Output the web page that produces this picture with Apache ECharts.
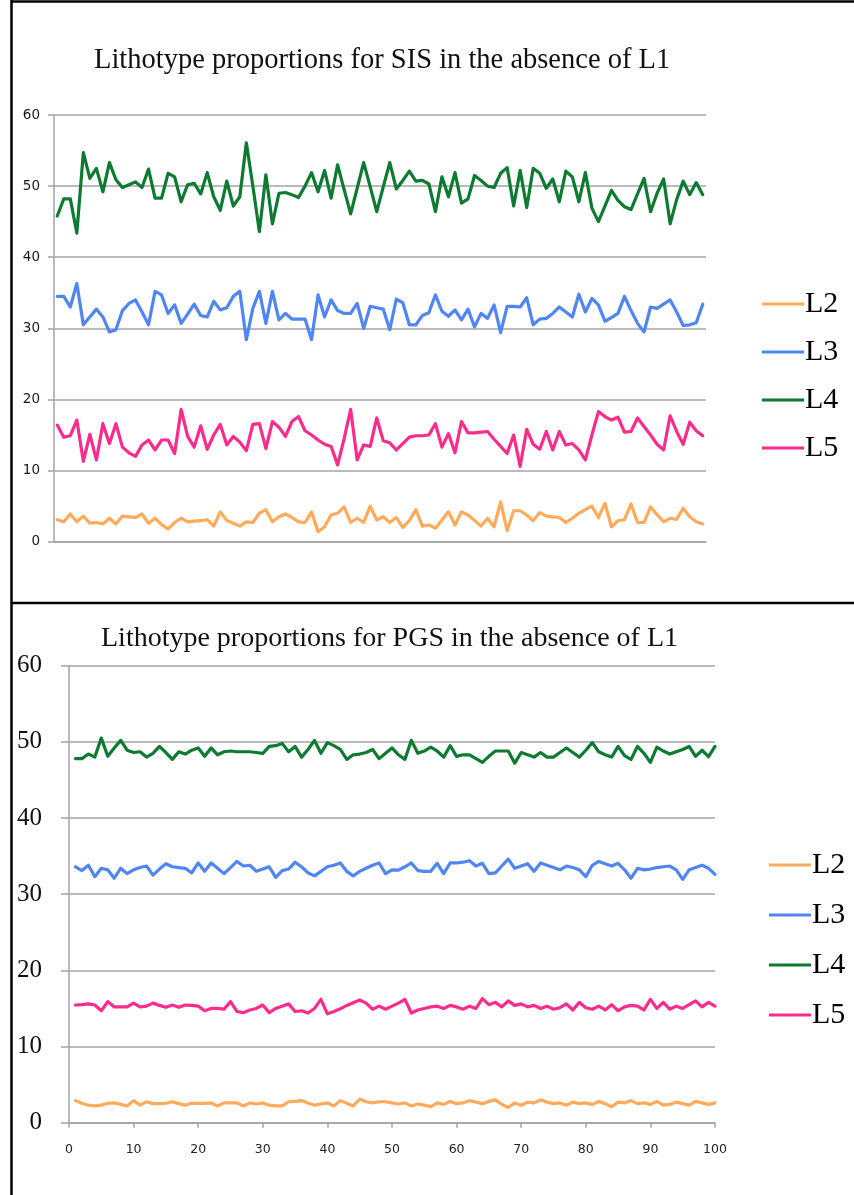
<!DOCTYPE html>
<html>
<head>
<meta charset="utf-8">
<title>Lithotype proportions in the absence of L1</title>
<script src="https://cdn.jsdelivr.net/npm/echarts@6/dist/echarts.min.js"></script>
<style>
  html, body { margin: 0; padding: 0; background: #fff; }
  #chart { width: 854px; height: 1195px; }
</style>
</head>
<body>
<div id="chart"></div>
<script>
// Simulation runs 1..100
const runs = Array.from({ length: 100 }, (_, i) => i + 1);
const seriesNames = ['L2', 'L3', 'L4', 'L5'];
const yTicks = [0, 10, 20, 30, 40, 50, 60];
const xTicks = [0, 10, 20, 30, 40, 50, 60, 70, 80, 90, 100];

// SIS proportions (%)
const sisL2 = [3.1,2.8,3.9,2.8,3.6,2.6,2.7,2.5,3.3,2.5, 3.6,3.5,3.4,3.9,2.6,3.3,2.4,1.8,2.7,3.3,
  2.8,2.9,2.95,3.1,2.2,4.2,3.0,2.6,2.2,2.8, 2.7,4.0,4.5,2.8,3.5,3.9,3.4,2.8,2.7,4.2,
  1.4,2.1,3.75,4.0,4.9,2.7,3.3,2.7,5.0,3.05, 3.5,2.7,3.4,2.0,2.95,4.5,2.2,2.35,1.9,3.05,
  4.2,2.35,4.2,3.75,3.0,2.2,3.3,2.1,5.6,1.55, 4.35,4.35,3.75,2.95,4.1,3.6,3.5,3.4,2.7,3.3,
  4.0,4.5,5.0,3.4,5.4,2.1,2.95,3.1,5.3,2.7, 2.7,4.9,3.8,2.8,3.3,3.15,4.7,3.5,2.8,2.5];
const sisL3 = [34.5,34.5,33.0,36.3,30.5,31.6,32.7,31.6,29.5,29.8, 32.5,33.5,34.0,32.3,30.5,35.2,34.7,32.1,33.3,30.7,
  32.0,33.4,31.8,31.6,33.8,32.6,32.9,34.5,35.2,28.4, 32.8,35.2,30.7,35.2,31.2,32.1,31.3,31.3,31.3,28.4,
  34.7,31.6,34.0,32.5,32.1,32.1,33.5,30.0,33.1,32.9, 32.7,29.8,34.1,33.6,30.5,30.5,31.8,32.2,34.7,32.4,
  31.7,32.6,31.2,32.7,30.2,32.1,31.4,33.3,29.4,33.1, 33.1,33.0,34.3,30.5,31.3,31.4,32.1,33.0,32.3,31.6,
  34.8,32.3,34.2,33.3,31.0,31.5,32.1,34.5,32.5,30.7, 29.5,33.0,32.8,33.4,34.0,32.3,30.4,30.5,30.8,33.4];
const sisL4 = [45.8,48.2,48.2,43.4,54.7,51.1,52.5,49.2,53.3,50.9, 49.8,50.2,50.6,49.8,52.4,48.3,48.3,51.8,51.3,47.8,
  50.2,50.4,48.9,51.9,48.5,46.6,50.7,47.2,48.5,56.1, 50.0,43.6,51.6,44.7,49.0,49.1,48.8,48.4,50.0,51.9,
  49.2,52.2,48.3,53.0,49.5,46.1,49.7,53.3,49.9,46.4, 49.9,53.3,49.6,50.8,52.1,50.7,50.8,50.3,46.4,51.3,
  48.5,51.9,47.6,48.2,51.5,50.8,50.0,49.8,51.8,52.6, 47.2,52.2,47.0,52.5,51.8,49.7,51.0,47.8,52.1,51.3,
  47.8,51.9,46.9,45.0,47.2,49.4,48.0,47.1,46.7,48.9, 51.1,46.4,49.0,51.0,44.7,48.1,50.7,48.8,50.5,48.8];
const sisL5 = [16.4,14.7,14.9,17.1,11.3,15.1,11.5,16.6,13.8,16.6, 13.3,12.5,12.0,13.6,14.3,12.9,14.3,14.3,12.4,18.6,
  14.8,13.3,16.3,13.0,15.0,16.5,13.6,14.8,14.0,12.8, 16.5,16.6,13.1,16.9,16.1,14.8,16.9,17.6,15.6,15.0,
  14.3,13.7,13.4,10.8,14.5,18.6,11.5,13.6,13.4,17.4, 14.2,13.9,12.9,13.8,14.7,14.9,14.9,15.0,16.6,13.3,
  15.2,12.5,16.9,15.3,15.3,15.4,15.5,14.4,13.4,12.4, 15.0,10.6,15.8,13.7,13.0,15.5,12.9,15.5,13.6,13.8,
  12.9,11.5,15.0,18.3,17.6,17.1,17.5,15.4,15.5,17.4, 16.2,15.0,13.7,12.9,17.7,15.5,13.7,16.8,15.6,14.9];

// PGS proportions (%)
const pgsL2 = [2.9,2.55,2.3,2.2,2.3,2.55,2.6,2.4,2.2,2.9, 2.3,2.75,2.5,2.5,2.55,2.75,2.5,2.3,2.55,2.55,
  2.55,2.6,2.2,2.6,2.6,2.6,2.2,2.6,2.45,2.6, 2.3,2.2,2.2,2.75,2.8,2.9,2.6,2.3,2.45,2.6,
  2.2,2.9,2.55,2.2,3.1,2.75,2.6,2.75,2.75,2.6, 2.45,2.6,2.2,2.45,2.3,2.1,2.6,2.4,2.8,2.5,
  2.6,2.9,2.7,2.5,2.8,3.0,2.4,2.0,2.6,2.3, 2.7,2.6,3.0,2.7,2.5,2.6,2.3,2.7,2.5,2.6,
  2.4,2.8,2.5,2.1,2.7,2.6,2.9,2.5,2.6,2.4, 2.8,2.3,2.4,2.7,2.5,2.3,2.8,2.6,2.4,2.6];
const pgsL3 = [33.6,33.1,33.8,32.3,33.4,33.2,32.1,33.4,32.7,33.2, 33.5,33.7,32.5,33.3,34.0,33.6,33.5,33.4,32.8,34.1,
  33.0,34.1,33.4,32.7,33.5,34.3,33.7,33.8,33.0,33.3, 33.6,32.2,33.1,33.3,34.2,33.6,32.8,32.4,33.0,33.6,
  33.8,34.1,33.0,32.4,33.0,33.4,33.8,34.1,32.7,33.2, 33.15,33.6,34.1,33.1,33.0,33.0,34.05,32.7,34.1,34.1,
  34.2,34.4,33.7,34.05,32.7,32.8,33.7,34.6,33.4,33.7, 34.0,33.0,34.1,33.8,33.5,33.2,33.7,33.5,33.2,32.3,
  33.8,34.3,34.0,33.7,34.05,33.2,32.1,33.4,33.2,33.3, 33.5,33.6,33.7,33.2,31.95,33.2,33.5,33.8,33.4,32.6];
const pgsL4 = [47.8,47.8,48.4,48.0,50.5,48.1,49.2,50.2,48.9,48.6, 48.7,48.0,48.5,49.4,48.6,47.7,48.7,48.4,48.9,49.2,
  48.1,49.2,48.3,48.7,48.8,48.7,48.7,48.7,48.6,48.5, 49.4,49.5,49.8,48.7,49.4,48.0,49.0,50.2,48.5,49.9,
  49.5,49.0,47.7,48.3,48.4,48.6,49.0,47.8,48.5,49.2, 48.3,47.7,50.2,48.5,48.8,49.3,48.8,48.0,49.5,48.1,
  48.3,48.3,47.8,47.3,48.1,48.8,48.8,48.8,47.2,48.6, 48.3,48.0,48.6,48.0,48.0,48.6,49.2,48.6,48.0,48.9,
  49.9,48.7,48.3,48.0,49.4,48.2,47.7,49.4,48.5,47.3, 49.3,48.8,48.4,48.7,49.0,49.4,48.1,48.9,48.05,49.4];
const pgsL5 = [15.45,15.5,15.6,15.45,14.7,15.9,15.2,15.2,15.2,15.7, 15.2,15.3,15.7,15.4,15.15,15.45,15.15,15.45,15.4,15.3,
  14.7,15.0,15.0,14.9,15.9,14.6,14.45,14.8,15.0,15.45, 14.45,15.0,15.3,15.6,14.6,14.7,14.4,15.0,16.2,14.3,
  14.6,14.95,15.4,15.75,16.1,15.7,14.9,15.3,14.9,15.3, 15.7,16.2,14.4,14.8,15.0,15.2,15.3,15.0,15.4,15.2,
  14.9,15.3,15.0,16.3,15.5,15.8,15.2,16.0,15.4,15.6, 15.2,15.4,15.0,15.3,14.9,15.1,15.6,14.8,15.8,15.1,
  14.9,15.3,14.8,15.5,14.7,15.2,15.4,15.3,14.8,16.2, 15.0,15.8,14.9,15.3,15.0,15.5,16.0,15.2,15.8,15.3];

const colors = { L2: '#FFAB5B', L3: '#4F86F4', L4: '#0D7A31', L5: '#FB2C8B' };
const gridGray = '#a4a4a4';
const serif = '"Liberation Serif", "Times New Roman", serif';
const sans = '"DejaVu Sans", Verdana, sans-serif';

const sisData = { L2: sisL2, L3: sisL3, L4: sisL4, L5: sisL5 };
const pgsData = { L2: pgsL2, L3: pgsL3, L4: pgsL4, L5: pgsL5 };

function lineSeries(name, values, gridIndex, asPairs) {
  return {
    name: name,
    type: 'line',
    xAxisIndex: gridIndex,
    yAxisIndex: gridIndex,
    showSymbol: false,
    symbol: 'none',
    animation: false,
    color: colors[name],
    lineStyle: { width: 3.2, color: colors[name], join: 'round', cap: 'round' },
    data: asPairs ? values.map((v, i) => [runs[i], v]) : values
  };
}

const series = [];
seriesNames.forEach(n => series.push(lineSeries(n, sisData[n], 0, false)));
seriesNames.forEach(n => series.push(lineSeries(n, pgsData[n], 1, true)));

const chart = echarts.init(document.getElementById('chart'), null, { renderer: 'canvas' });

chart.setOption({
  backgroundColor: '#ffffff',
  animation: false,
  title: [
    {
      text: 'Lithotype proportions for SIS in the absence of L1',
      left: 89, top: 41,
      textStyle: { fontFamily: serif, fontSize: 28.5, fontWeight: 'normal', color: '#111' }
    },
    {
      text: 'Lithotype proportions for PGS in the absence of L1',
      left: 96, top: 620,
      textStyle: { fontFamily: serif, fontSize: 28, fontWeight: 'normal', color: '#111' }
    }
  ],
  legend: [
    {
      orient: 'vertical', left: 757, top: 284,
      data: seriesNames,
      icon: 'rect', itemWidth: 42, itemHeight: 3, itemGap: 18,
      selectedMode: false,
      textStyle: { fontFamily: serif, fontSize: 30, color: '#000', lineHeight: 30, padding: [0, 0, 0, -4] }
    },
    {
      orient: 'vertical', left: 764, top: 845,
      data: seriesNames,
      icon: 'rect', itemWidth: 42, itemHeight: 3, itemGap: 20,
      selectedMode: false,
      textStyle: { fontFamily: serif, fontSize: 30, color: '#000', lineHeight: 30, padding: [0, 0, 0, -4] }
    }
  ],
  grid: [
    { left: 54, right: 148, top: 115, bottom: 1195 - 541.7, containLabel: false },
    { left: 69, right: 139, top: 665.7, bottom: 1195 - 1122.7, containLabel: false }
  ],
  xAxis: [
    {
      gridIndex: 0, type: 'category', data: runs, boundaryGap: true,
      axisLine: { show: true, lineStyle: { color: gridGray, width: 1.5 } },
      axisTick: { show: false }, axisLabel: { show: false }, splitLine: { show: false }
    },
    {
      gridIndex: 1, type: 'value', min: xTicks[0], max: xTicks[xTicks.length - 1], interval: 10,
      axisLine: { show: true, lineStyle: { color: gridGray, width: 1.5 } },
      axisTick: { show: true, length: 5, lineStyle: { color: gridGray, width: 1.5 } },
      axisLabel: { show: true, margin: 21, fontFamily: sans, fontSize: 12.5, color: '#222' },
      splitLine: { show: false }
    }
  ],
  yAxis: [
    {
      gridIndex: 0, type: 'value', min: yTicks[0], max: yTicks[yTicks.length - 1], interval: 10,
      axisLine: { show: true, lineStyle: { color: gridGray, width: 1.5 } },
      axisTick: { show: true, length: 6, lineStyle: { color: gridGray, width: 1.5 } },
      axisLabel: { margin: 14, fontFamily: sans, fontSize: 13.5, color: '#1a1a1a' },
      splitLine: { show: true, lineStyle: { color: gridGray, width: 1.5 } }
    },
    {
      gridIndex: 1, type: 'value', min: yTicks[0], max: yTicks[yTicks.length - 1], interval: 10,
      axisLine: { show: true, lineStyle: { color: gridGray, width: 1.5 } },
      axisTick: { show: true, length: 8, lineStyle: { color: gridGray, width: 1.5 } },
      axisLabel: { margin: 27, fontFamily: serif, fontSize: 25, color: '#111' },
      splitLine: { show: true, lineStyle: { color: gridGray, width: 1.5 } }
    }
  ],
  graphic: [
    // panel frames
    { type: 'line', shape: { x1: 11, y1: 1.5, x2: 854, y2: 1.5 }, style: { stroke: '#000', lineWidth: 2.5 }, silent: true },
    { type: 'line', shape: { x1: 11.5, y1: 0, x2: 11.5, y2: 1195 }, style: { stroke: '#000', lineWidth: 2.5 }, silent: true },
    { type: 'line', shape: { x1: 11, y1: 603, x2: 854, y2: 603 }, style: { stroke: '#000', lineWidth: 2.5 }, silent: true }
  ],
  series: series
});
</script>
</body>
</html>
